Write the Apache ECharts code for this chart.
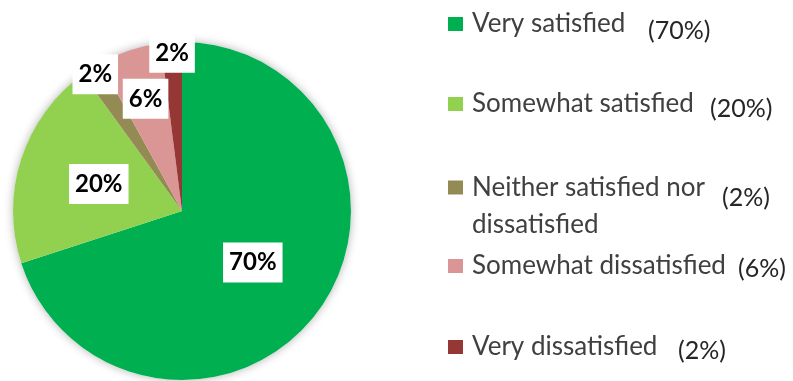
<!DOCTYPE html>
<html>
<head>
<meta charset="utf-8">
<script src="https://cdn.jsdelivr.net/npm/echarts@6/dist/echarts.min.js"></script>
<style>
  html, body { margin: 0; padding: 0; background: #fff; }
  #chart { width: 793px; height: 381px; }
</style>
</head>
<body>
<div id="chart"></div>
<script>
var categories = ['Very satisfied', 'Somewhat satisfied', 'Neither satisfied nor dissatisfied', 'Somewhat dissatisfied', 'Very dissatisfied'];
var values = [70, 20, 2, 6, 2];
var colors = ['#00b050', '#92d050', '#948a54', '#d99694', '#953735'];

// layout bits
var R = 169, cx = 182, cy = 211;
var labelRadius = [0.5, 0.5, 0.94, 0.68, 0.92];
var legendCenterY = [23, 103, 184, 265, 346];
var pctX = [648, 710, 722, 738, 678];
var pctDrop = [7, 5, 10, 3, 4];
var textX = 472;

var total = values.reduce(function (a, b) { return a + b; }, 0);
var acc = 0;
var pieData = values.map(function (v, i) {
    var mid = (acc + v / 2) / total * Math.PI * 2;
    acc += v;
    var d = (labelRadius[i] - 0.5) * R;
    return {
        name: categories[i],
        value: v,
        itemStyle: { color: colors[i] },
        label: { offset: [Math.sin(mid) * d, -Math.cos(mid) * d] }
    };
});

function legendText(i) {
    var pct = '{p|(' + values[i] + '%)}';
    if (i === 2) {
        return '{e| }\n{n|Neither satisfied nor}' + pct + '\n{n|dissatisfied}';
    }
    return '{n|' + categories[i] + '}' + pct;
}

var legends = categories.map(function (name, i) {
    var two = i === 2;
    return {
        orient: 'vertical',
        left: 448,
        top: two ? legendCenterY[i] - 47 : legendCenterY[i] - 12,
        padding: 0,
        itemWidth: 15,
        itemHeight: 14,
        icon: 'rect',
        selectedMode: false,
        data: [name],
        formatter: function () { return legendText(i); },
        textStyle: {
            fontFamily: 'Lato',
            fontSize: 26,
            color: '#404040',
            padding: [0, 0, 0, 4],
            rich: {
                e: { fontSize: 26, lineHeight: 30 },
                n: { fontFamily: 'Lato', fontSize: 26, color: '#404040', width: pctX[i] - textX, lineHeight: 30 },
                p: { fontFamily: 'Lato', fontSize: 25, color: '#262626', padding: [pctDrop[i] * 2, 0, 0, 0] }
            }
        }
    };
});

var myChart = echarts.init(document.getElementById('chart'));
var option = {
    animation: false,
    legend: legends,
    series: [{
        type: 'pie',
        silent: true,
        center: [cx, cy],
        radius: R,
        z: 1,
        label: { show: false },
        labelLine: { show: false },
        itemStyle: { color: '#fff', shadowBlur: 10, shadowColor: 'rgba(0,0,0,0.3)' },
        data: [{ name: 'shadow', value: 1 }]
    }, {
        type: 'pie',
        center: [cx, cy],
        radius: R,
        startAngle: 90,
        clockwise: true,
        z: 2,
        avoidLabelOverlap: false,
        itemStyle: { borderWidth: 0 },
        emphasis: { disabled: true },
        labelLine: { show: false },
        label: {
            show: true,
            position: 'inside',
            formatter: '{c}%',
            fontFamily: 'Lato',
            fontWeight: 'bold',
            fontSize: 24,
            color: '#000',
            backgroundColor: '#fff',
            padding: [8, 6]
        },
        data: pieData
    }]
};
myChart.setOption(option);
</script>
</body>
</html>
